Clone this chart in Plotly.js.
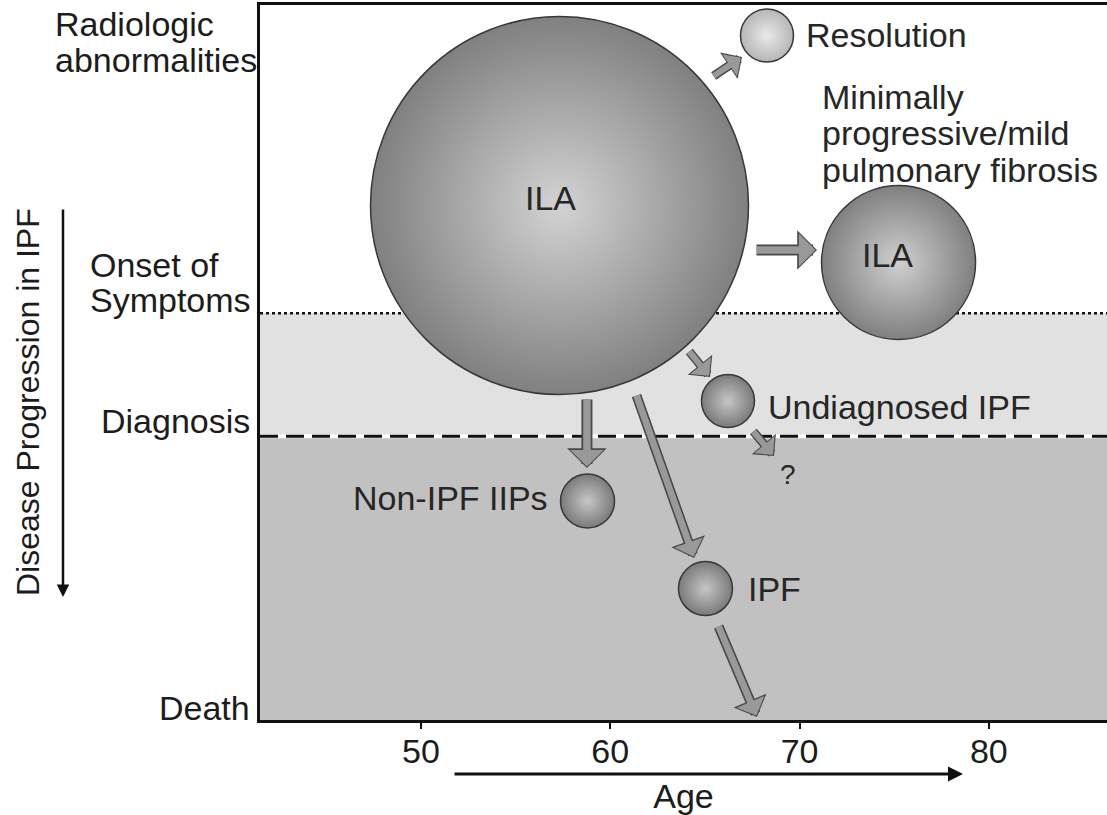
<!DOCTYPE html>
<html>
<head>
<meta charset="utf-8">
<script src="https://cdn.plot.ly/plotly-3.0.1.min.js"></script>
<style>
html,body{margin:0;padding:0;background:#ffffff;}
#chart{width:1107px;height:815px;}
</style>
</head>
<body>
<div id="chart"></div>
<script>
// ================= DATA =================
// x axis: age (years)
const ageTicks = [50, 60, 70, 80];
const ageTickLabels = ["50", "60", "70", "80"];

// y axis: disease progression level (0 = top, 100 = death)
const levelTop = 0;
const levelBottom = 100;
const stageBoundaryNames = ["Onset of Symptoms", "Diagnosis"];
const stageBoundaryLevels = [43.1, 60.3];
const stageLabelLines = ["Radiologic", "abnormalities", "Onset of", "Symptoms", "Diagnosis", "Death"];
const stageLabelLevels = [2.6, 7.7, 36.4, 41.3, 58.2, 98.3];

// bubbles
const bubbleNames = ["ILA", "Resolution", "ILA (minimally progressive)", "Undiagnosed IPF", "Non-IPF IIPs", "IPF"];
const bubbleAge = [57.32, 68.28, 75.23, 66.22, 58.80, 65.03];
const bubbleLevel = [28.04, 4.27, 36.01, 55.38, 69.37, 81.61];
const bubbleDiameter = [378, 53, 154, 53, 54, 54];

// transitions (arrows): from -> to
const pathFromAge   = [65.38, 67.65, 64.11, 67.49, 58.77, 61.36, 65.69];
const pathFromLevel = [10.07, 34.27, 48.25, 59.44, 54.97, 54.41, 86.71];
const pathToAge     = [66.96, 70.92, 65.27, 68.65, 58.77, 64.43, 67.75];
const pathToLevel   = [7.27, 34.27, 52.03, 63.08, 64.76, 77.34, 99.58];

// callout texts
const labelTexts = ["ILA", "ILA", "Resolution", "Minimally", "progressive/mild", "pulmonary fibrosis", "Undiagnosed IPF", "?", "Non-IPF IIPs", "IPF"];
const labelAge   = [56.82, 74.62, 70.24, 71.08, 71.08, 71.08, 68.23, 69.39, 56.82, 67.17];
const labelLevel = [26.99, 34.97, 4.20, 12.87, 17.90, 23.01, 56.22, 65.73, 68.95, 81.68];

// ================= STYLE =================
const FONT = "Liberation Sans, Arial, sans-serif";
const TXT = "#1c1c1c";
const bubbleEdge   = ["#808080", "#b6b6b6", "#808080", "#7a7a7a", "#7a7a7a", "#7a7a7a"];
const bubbleCenter = ["#d3d3d3", "#e9e9e9", "#d0d0d0", "#c6c6c6", "#c6c6c6", "#c6c6c6"];
const labelAnchor  = ["center", "center", "left", "left", "left", "left", "left", "center", "right", "left"];
const labelSize    = [34, 34, 34, 34, 34, 34, 34, 28, 34, 34];
const arrowWeight  = [0.8, 1, 0.8, 0.8, 1, 0.9, 0.9];
const stageLabelLeftPx = [53, 53, 88, 88, 99, 157];

const PLOT_L = 260, PLOT_W = 847, PLOT_T = 5, PLOT_H = 715;

// ================= BUILD =================
const bubbles = {
  type: "scatter",
  mode: "markers",
  x: bubbleAge,
  y: bubbleLevel,
  text: bubbleNames,
  hoverinfo: "text",
  cliponaxis: false,
  marker: {
    size: bubbleDiameter,
    sizemode: "diameter",
    color: bubbleEdge,
    opacity: 1,
    gradient: { type: "radial", color: bubbleCenter },
    line: { color: "#383838", width: 1.5 }
  }
};

const annotations = [];

// stage labels on the left (left-aligned blocks)
stageLabelLines.forEach((t, i) => {
  annotations.push({
    text: t, xref: "paper", yref: "y",
    x: (stageLabelLeftPx[i] - PLOT_L) / PLOT_W, y: stageLabelLevels[i],
    xanchor: "left", yanchor: "middle", showarrow: false,
    font: { family: FONT, size: 34, color: TXT }
  });
});

// vertical "Disease Progression in IPF" label and arrow
annotations.push({
  text: "Disease Progression in IPF", textangle: -90,
  xref: "paper", yref: "paper",
  x: (28 - PLOT_L) / PLOT_W, y: (PLOT_T + PLOT_H - 402) / PLOT_H,
  xanchor: "center", yanchor: "middle", showarrow: false,
  font: { family: FONT, size: 32, color: TXT }
});
annotations.push({
  text: "", xref: "paper", yref: "paper",
  x: (63 - PLOT_L) / PLOT_W, y: (PLOT_T + PLOT_H - 597) / PLOT_H,
  ax: 0, ay: -(597 - 208), axref: "pixel", ayref: "pixel",
  showarrow: true, arrowhead: 2, arrowsize: 1, arrowwidth: 2.5, arrowcolor: "#111", standoff: 0
});

// Age arrow under axis
annotations.push({
  text: "", xref: "paper", yref: "paper",
  x: (963 - PLOT_L) / PLOT_W, y: (PLOT_T + PLOT_H - 774) / PLOT_H,
  ax: -(963 - 453), ay: 0, axref: "pixel", ayref: "pixel",
  showarrow: true, arrowhead: 2, arrowsize: 1, arrowwidth: 3, arrowcolor: "#111", standoff: 0
});

// transition arrows (outline + fill)
pathFromAge.forEach((_, i) => {
  const w = arrowWeight[i];
  annotations.push({
    text: "", xref: "x", yref: "y", axref: "x", ayref: "y",
    x: pathToAge[i], y: pathToLevel[i], ax: pathFromAge[i], ay: pathFromLevel[i],
    showarrow: true, arrowhead: 1, arrowwidth: 11 * w, arrowsize: 0.6, arrowcolor: "#484848", standoff: 0
  });
  annotations.push({
    text: "", xref: "x", yref: "y", axref: "x", ayref: "y",
    x: pathToAge[i], y: pathToLevel[i], ax: pathFromAge[i], ay: pathFromLevel[i],
    showarrow: true, arrowhead: 1, arrowwidth: 7.5 * w, arrowsize: 0.74, arrowcolor: "#999999", standoff: 1.5
  });
});

// callout texts
labelTexts.forEach((t, i) => {
  annotations.push({
    text: t, xref: "x", yref: "y", x: labelAge[i], y: labelLevel[i],
    xanchor: labelAnchor[i], yanchor: "middle", showarrow: false,
    font: { family: FONT, size: labelSize[i], color: "#262626" }
  });
});

const shapes = [
  { type: "rect", xref: "paper", x0: 0, x1: 1, yref: "y", y0: stageBoundaryLevels[0], y1: stageBoundaryLevels[1],
    fillcolor: "#e1e1e1", line: { width: 0 }, layer: "below" },
  { type: "rect", xref: "paper", x0: 0, x1: 1, yref: "y", y0: stageBoundaryLevels[1], y1: levelBottom,
    fillcolor: "#c1c1c1", line: { width: 0 }, layer: "below" },
  { type: "line", xref: "paper", x0: 0, x1: 1, yref: "y", y0: stageBoundaryLevels[0], y1: stageBoundaryLevels[0],
    line: { color: "#111", width: 2.5, dash: "3px,3px" }, layer: "below" },
  { type: "line", xref: "paper", x0: 0, x1: 1, yref: "y", y0: stageBoundaryLevels[1], y1: stageBoundaryLevels[1],
    line: { color: "#ffffff", width: 4 }, layer: "below" },
  { type: "line", xref: "paper", x0: 0, x1: 1, yref: "y", y0: stageBoundaryLevels[1], y1: stageBoundaryLevels[1],
    line: { color: "#111", width: 3, dash: "18px,8px" }, layer: "below" }
];

const layout = {
  width: 1107, height: 815,
  margin: { l: PLOT_L, r: 0, t: PLOT_T, b: 815 - PLOT_T - PLOT_H },
  paper_bgcolor: "#ffffff", plot_bgcolor: "#ffffff",
  showlegend: false,
  xaxis: {
    range: [41.5, 86.24],
    tickmode: "array", tickvals: ageTicks, ticktext: ageTickLabels,
    ticks: "outside", ticklen: 6, tickwidth: 2, tickcolor: "#111",
    ticklabelstandoff: -7,
    tickfont: { family: FONT, size: 34, color: TXT },
    showline: true, linewidth: 3, linecolor: "#111", mirror: true,
    showgrid: false, zeroline: false, fixedrange: true, automargin: false,
    title: { text: "Age", font: { family: FONT, size: 34, color: TXT }, standoff: 25 }
  },
  yaxis: {
    range: [levelBottom, levelTop],
    showline: true, linewidth: 3, linecolor: "#111", mirror: false,
    showgrid: false, zeroline: false, showticklabels: false, ticks: "",
    fixedrange: true, automargin: false
  },
  shapes: shapes,
  annotations: annotations
};

Plotly.newPlot("chart", [bubbles], layout, { displayModeBar: false, staticPlot: true });
</script>
</body>
</html>
